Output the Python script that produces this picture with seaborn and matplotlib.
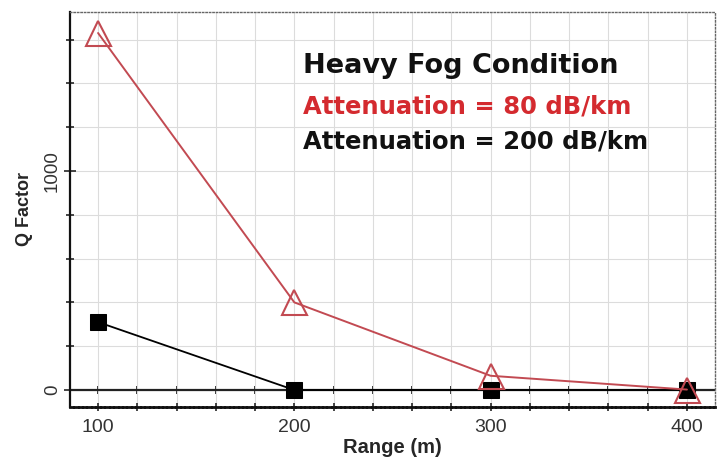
import matplotlib
matplotlib.use("Agg")
import matplotlib.pyplot as plt
import seaborn as sns
import pandas as pd
from matplotlib.ticker import MultipleLocator, FixedLocator

range_m = [100, 200, 300, 400]
q_80 = [1630, 400, 65, 2]
q_200 = [310, 0, 0, 0]
x_ticks = [100, 200, 300, 400]
y_ticks = [0, 1000]
title_lines = ["Heavy Fog Condition", "Attenuation = 80 dB/km", "Attenuation = 200 dB/km"]

sns.set_theme(style="white")
plt.rcParams['font.family'] = ['Liberation Sans', 'DejaVu Sans']

df80 = pd.DataFrame({"Range": range_m, "Q": q_80})
df200 = pd.DataFrame({"Range": range_m, "Q": q_200})

fig = plt.figure(figsize=(7.21, 4.62), dpi=100)
ax = fig.add_axes([70/721, 1-407/462, (715-70)/721, (407-12)/462])

red = "#c24a52"
sns.lineplot(data=df200, x="Range", y="Q", ax=ax, color="black", lw=1.3,
             marker="s", markersize=12, markerfacecolor="black",
             markeredgecolor="black", zorder=4)
sns.lineplot(data=df80, x="Range", y="Q", ax=ax, color=red, lw=1.4,
             marker="^", markersize=18, markerfacecolor="none",
             markeredgecolor=red, markeredgewidth=1.5, zorder=5)

ax.set_xlim(85.7, 414.3)
ax.set_ylim(-77.6, 1726)

ax.xaxis.set_major_locator(FixedLocator(x_ticks))
ax.xaxis.set_minor_locator(MultipleLocator(20))
ax.yaxis.set_major_locator(FixedLocator(y_ticks))
ax.yaxis.set_minor_locator(MultipleLocator(200))

ax.grid(True, which="both", color="#dcdcdc", lw=0.8)
ax.set_axisbelow(True)

ax.axhline(0, color="#222222", lw=1.6, zorder=2)
sec = ax.secondary_xaxis(0, transform=ax.transData)
sec.xaxis.set_major_locator(MultipleLocator(20))
sec.tick_params(axis="x", direction="inout", length=6, width=1.2, labelbottom=False, colors="#111111")
sec.spines["bottom"].set_visible(False)

for s in ["top", "right"]:
    ax.spines[s].set_linestyle((0, (1, 1.5)))
    ax.spines[s].set_color("#666666")
    ax.spines[s].set_linewidth(1.0)
ax.spines["left"].set_color("#111111")
ax.spines["left"].set_linewidth(1.6)
ax.spines["bottom"].set_color("#111111")
ax.spines["bottom"].set_linewidth(2.0)
ax.spines["bottom"].set_linestyle((0, (1, 0.6)))

ax.tick_params(axis="x", which="both", direction="inout", length=6, width=1.2,
               labelsize=14, labelcolor="#333333", bottom=True, pad=6)
ax.tick_params(axis="y", which="major", direction="inout", length=9, width=1.2,
               labelsize=13.5, labelcolor="#333333", left=True, pad=2)
ax.tick_params(axis="y", which="minor", direction="inout", length=6, width=1.2, left=True)
ax.set_yticklabels([str(v) for v in y_ticks], rotation=90, va="center")
ax.set_xticklabels([str(v) for v in x_ticks])

ax.set_xlabel("Range (m)", fontsize=14.5, fontweight="bold", labelpad=1)
ax.set_ylabel("Q Factor", fontsize=13, fontweight="bold", labelpad=8)

tfont = ['DejaVu Sans']
ax.text(303/721, 1-66/462, title_lines[0], transform=fig.transFigure, fontsize=19.5,
        fontweight="bold", color="#111111", va="center", ha="left", family=tfont)
ax.text(303/721, 1-106/462, title_lines[1], transform=fig.transFigure, fontsize=17.5,
        fontweight="bold", color="#d42a2f", va="center", ha="left", family=tfont)
ax.text(303/721, 1-142/462, title_lines[2], transform=fig.transFigure, fontsize=17.5,
        fontweight="bold", color="#111111", va="center", ha="left", family=tfont)

fig.savefig("out.png", dpi=100)
